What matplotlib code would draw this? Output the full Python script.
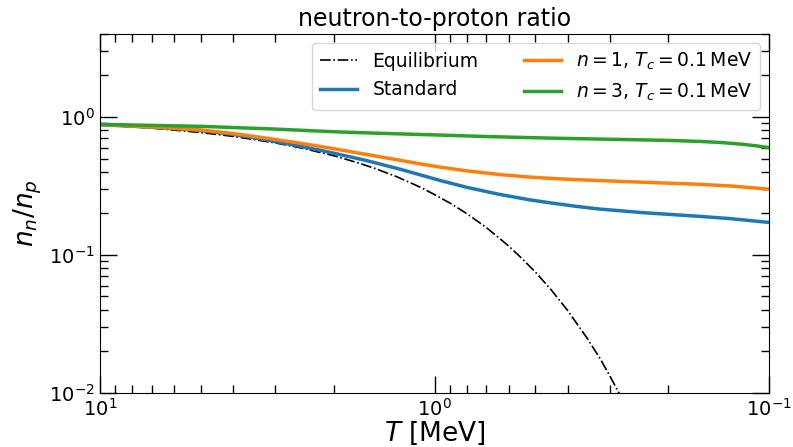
import numpy as np
import matplotlib
matplotlib.use("Agg")
import matplotlib.pyplot as plt

# Temperatures [MeV] and ratios
T_eq = [10, 7, 5, 4, 3, 2.5, 2, 1.7, 1.5, 1.3, 1.1, 1.0, 0.9, 0.8, 0.7, 0.6,
        0.55, 0.5, 0.45, 0.4, 0.35, 0.32, 0.3, 0.28]
r_eq = [0.879, 0.831, 0.772, 0.724, 0.650, 0.596, 0.524, 0.467, 0.422, 0.370,
        0.309, 0.274, 0.238, 0.199, 0.158, 0.116, 0.095, 0.0753, 0.0565,
        0.0395, 0.0249, 0.0177, 0.0134, 0.0098]

T_std = [10, 7, 5, 4, 3.1, 2.5, 2.05, 1.6, 1.27, 1.1, 0.96, 0.8, 0.64, 0.52,
         0.45, 0.38, 0.32, 0.24, 0.16, 0.13, 0.1]
r_std = [0.880, 0.845, 0.798, 0.748, 0.675, 0.612, 0.554, 0.484, 0.419, 0.380,
         0.346, 0.309, 0.275, 0.251, 0.2385, 0.2256, 0.2150, 0.2029, 0.1902,
         0.1832, 0.1721]

T_n1 = [10, 7, 5, 4, 3.1, 2.5, 2.05, 1.6, 1.27, 1.1, 0.96, 0.8, 0.64, 0.52,
        0.45, 0.38, 0.32, 0.24, 0.16, 0.13, 0.1]
r_n1 = [0.882, 0.848, 0.806, 0.759, 0.697, 0.644, 0.595, 0.536, 0.486, 0.457,
        0.433, 0.407, 0.383, 0.367, 0.359, 0.352, 0.346, 0.337, 0.325, 0.316,
        0.300]

T_n3 = [10, 7, 5, 3, 2, 1.4, 1, 0.7, 0.45, 0.3, 0.2, 0.16, 0.14, 0.12, 0.11,
        0.1]
r_n3 = [0.885, 0.870, 0.856, 0.818, 0.782, 0.760, 0.742, 0.722, 0.703, 0.690,
        0.677, 0.665, 0.654, 0.634, 0.619, 0.600]

fig = plt.figure(figsize=(7.93, 4.47), dpi=100)
ax = fig.add_axes([0.126, 0.121, 0.844, 0.803])

ax.plot(T_eq, r_eq, color="black", ls="-.", lw=1.2, label="Equilibrium")
ax.plot(T_std, r_std, color="#1f77b4", lw=2.5, label="Standard")
ax.plot(T_n1, r_n1, color="#ff7f0e", lw=2.5,
        label=r"$n=1$, $T_c=0.1\,\mathrm{MeV}$")
ax.plot(T_n3, r_n3, color="#2ca02c", lw=2.5,
        label=r"$n=3$, $T_c=0.1\,\mathrm{MeV}$")

ax.set_xscale("log")
ax.set_yscale("log")
ax.set_xlim(10, 0.1)
ax.set_ylim(0.01, 4)

ax.tick_params(which="both", direction="in", top=True, right=True,
               labelsize=14)
ax.tick_params(which="major", length=12, width=1)
ax.tick_params(which="minor", length=6, width=1)

ax.set_xlabel(r"$T$ [MeV]", fontsize=19, labelpad=0)
ax.set_ylabel(r"$n_n/n_p$", fontsize=19)
ax.set_title("neutron-to-proton ratio", fontsize=17)

ax.legend(ncol=2, loc="upper right", fontsize=13.5, columnspacing=2.4)

fig.savefig("out.png", dpi=100)
